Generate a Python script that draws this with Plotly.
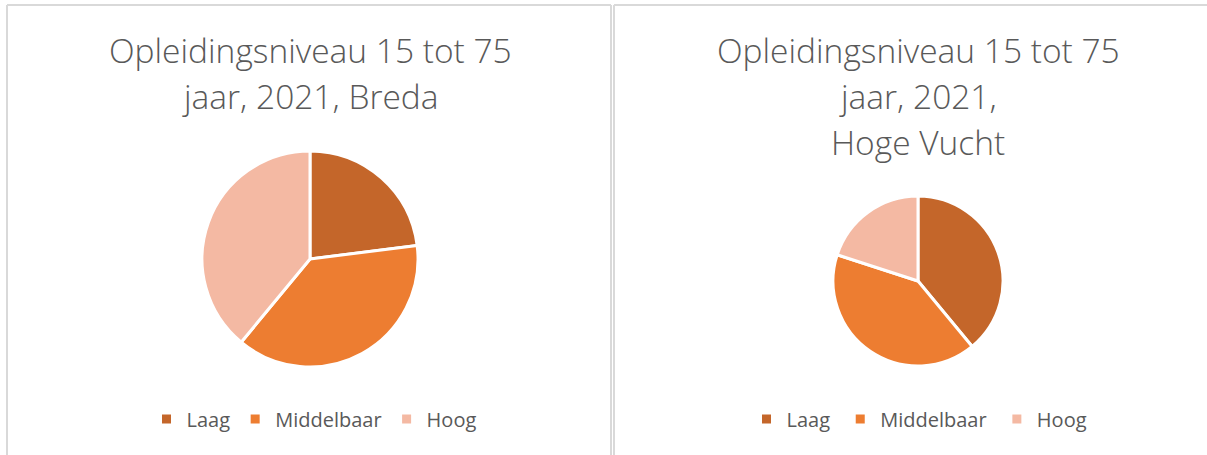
import plotly.graph_objects as go

# Data
categories = ["Laag", "Middelbaar", "Hoog"]
breda = [23, 38, 39]
hoge_vucht = [39, 41, 20]
colors = ["#C4662A", "#ED7D31", "#F4B9A3"]

title_breda = ["Opleidingsniveau 15 tot 75", "jaar, 2021, Breda"]
title_hv = ["Opleidingsniveau 15 tot 75", "jaar, 2021,", "Hoge Vucht"]

W, H = 1207, 455
GRAY = "#595959"
BORDER = "#D9D9D9"
FONT = "Open Sans"


def px_x(v):
    return v / W


def px_y(v):
    return 1 - v / H


fig = go.Figure()

fig.add_trace(go.Pie(
    labels=categories, values=breda,
    marker=dict(colors=colors, line=dict(color="white", width=3)),
    sort=False, direction="clockwise", rotation=0,
    textinfo="none", hoverinfo="label+percent",
    domain=dict(x=[px_x(202), px_x(418)], y=[px_y(367), px_y(151)]),
    legend="legend",
))
# trailing space keeps these legend items separate from the first pie
fig.add_trace(go.Pie(
    labels=[c + " " for c in categories], values=hoge_vucht,
    marker=dict(colors=colors, line=dict(color="white", width=3)),
    sort=False, direction="clockwise", rotation=0,
    textinfo="none", hoverinfo="label+percent",
    domain=dict(x=[px_x(833), px_x(1003)], y=[px_y(366), px_y(196)]),
    legend="legend2",
))

# titles, one annotation per line to get the wide line spacing
for cx, lines in [(310, title_breda), (918, title_hv)]:
    for i, line in enumerate(lines):
        fig.add_annotation(
            text=line, x=px_x(cx), y=px_y(50 + i * 46),
            xref="paper", yref="paper", xanchor="center", yanchor="middle",
            showarrow=False,
            font=dict(family=FONT, size=33.5, color=GRAY, weight=300),
        )

# panel borders
line_style = dict(color=BORDER, width=2)
fig.add_shape(type="line", xref="paper", yref="paper",
              x0=px_x(7), x1=px_x(7), y0=0, y1=px_y(5), line=line_style)
fig.add_shape(type="line", xref="paper", yref="paper",
              x0=px_x(7), x1=px_x(611), y0=px_y(5), y1=px_y(5), line=line_style)
fig.add_shape(type="line", xref="paper", yref="paper",
              x0=px_x(611), x1=px_x(611), y0=0, y1=px_y(5), line=line_style)
fig.add_shape(type="line", xref="paper", yref="paper",
              x0=px_x(614), x1=px_x(614), y0=0, y1=px_y(5), line=line_style)
fig.add_shape(type="line", xref="paper", yref="paper",
              x0=px_x(614), x1=1, y0=px_y(5), y1=px_y(5), line=line_style)

legend_common = dict(
    orientation="h", xanchor="center", yanchor="middle",
    font=dict(family=FONT, size=20, color=GRAY),
    bgcolor="rgba(0,0,0,0)", itemclick=False,
)
fig.update_layout(
    width=W, height=H,
    margin=dict(l=0, r=0, t=0, b=0),
    paper_bgcolor="white",
    showlegend=True,
    legend=dict(x=px_x(314), y=px_y(419), **legend_common),
    legend2=dict(x=px_x(922), y=px_y(419), **legend_common),
)

# drop the default 8px page margin so the figure fills the window
fig.write_html(
    "out.html",
    config={"displayModeBar": False},
    post_script="document.body.style.margin = '0';",
)
